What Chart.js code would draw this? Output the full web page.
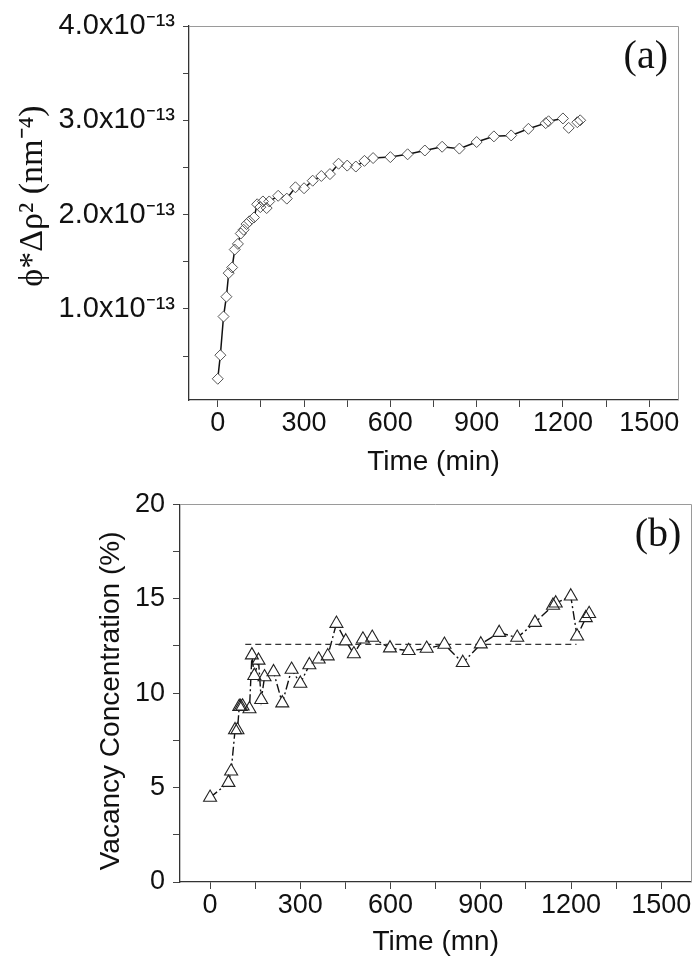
<!DOCTYPE html>
<html><head><meta charset="utf-8">
<script src="https://cdn.jsdelivr.net/npm/chart.js@4"></script>
<style>
html,body{margin:0;padding:0;background:#fff;}
#wrapA{position:absolute;left:0;top:0;width:700px;height:480px;}
#wrapB{position:absolute;left:0;top:480px;width:700px;height:485px;}
</style></head><body>
<div id="wrapA"><canvas id="chartA" width="700" height="480"></canvas></div>
<div id="wrapB"><canvas id="chartB" width="700" height="485"></canvas></div>
<script>
// ---- data (a): phi*Δρ² vs time ----
const timeA = [0, 9, 20, 30, 38, 50, 59, 70, 80, 90, 100, 110, 126, 137, 148, 157, 170, 179, 210, 240, 270, 300, 330, 360, 390, 420, 450, 480, 510, 540, 600, 660, 720, 780, 840, 900, 960, 1020, 1080, 1140, 1150, 1200, 1220, 1250, 1260];
const phiA = [0.26e-13, 0.51e-13, 0.92e-13, 1.13e-13, 1.38e-13, 1.44e-13, 1.63e-13, 1.69e-13, 1.80e-13, 1.84e-13, 1.90e-13, 1.93e-13, 1.97e-13, 2.11e-13, 2.08e-13, 2.14e-13, 2.07e-13, 2.14e-13, 2.20e-13, 2.17e-13, 2.29e-13, 2.28e-13, 2.36e-13, 2.41e-13, 2.43e-13, 2.54e-13, 2.52e-13, 2.51e-13, 2.57e-13, 2.60e-13, 2.61e-13, 2.64e-13, 2.68e-13, 2.72e-13, 2.70e-13, 2.77e-13, 2.83e-13, 2.84e-13, 2.91e-13, 2.97e-13, 2.99e-13, 3.02e-13, 2.92e-13, 2.98e-13, 3.00e-13];

// ---- data (b): vacancy concentration vs time ----
const timeB = [0, 61, 70, 83, 91, 97, 102, 108, 131, 139, 147, 161, 170, 181, 211, 240, 271, 300, 330, 361, 391, 420, 451, 478, 508, 539, 598, 660, 720, 779, 840, 900, 961, 1021, 1080, 1140, 1149, 1199, 1220, 1249, 1260];
const vacB = [4.47, 5.26, 5.86, 8.05, 8.05, 9.28, 9.28, 9.30, 9.16, 12.01, 10.92, 11.73, 9.65, 10.85, 11.12, 9.47, 11.25, 10.51, 11.49, 11.79, 11.96, 13.68, 12.75, 12.07, 12.85, 12.94, 12.38, 12.24, 12.36, 12.57, 11.61, 12.59, 13.20, 12.94, 13.73, 14.64, 14.76, 15.13, 13.01, 13.98, 14.20];
const plateauT = [117, 1218];
const plateauV = [12.58, 12.58];

// ---- tick labels ----
const xTicks = [0, 300, 600, 900, 1200, 1500];
const xTickLabels = ['0', '300', '600', '900', '1200', '1500'];
const yTicksA = [1e-13, 2e-13, 3e-13, 4e-13];
const yTickLabelsA = ['1.0x10\u207B\u00B9\u00B3', '2.0x10\u207B\u00B9\u00B3', '3.0x10\u207B\u00B9\u00B3', '4.0x10\u207B\u00B9\u00B3'];
const yTicksB = [0, 5, 10, 15, 20];
const yTickLabelsB = ['0', '5', '10', '15', '20'];

const SANS = '"Liberation Sans", Arial, sans-serif';
const SERIF = '"Liberation Serif", "Times New Roman", serif';

function multipleOf(v, step) { return Math.abs(v / step - Math.round(v / step)) < 1e-6; }
function labelFor(v, ticks, labels) {
  for (let i = 0; i < ticks.length; i++) {
    if (Math.abs(v - ticks[i]) <= Math.abs(ticks[i]) * 1e-6 + 1e-20) return labels[i];
  }
  return '';
}

const framePlugin = {
  id: 'frame',
  afterDraw(chart, args, opts) {
    const {ctx, chartArea: a} = chart;
    ctx.save();
    ctx.strokeStyle = '#9a9a9a';
    ctx.lineWidth = 1;
    ctx.beginPath();
    ctx.moveTo(a.left, Math.round(a.top) + 0.5);
    ctx.lineTo(Math.round(a.right) + 0.5, Math.round(a.top) + 0.5);
    ctx.lineTo(Math.round(a.right) + 0.5, a.bottom);
    ctx.stroke();
    ctx.font = '40px ' + SERIF;
    ctx.fillStyle = '#111';
    ctx.textAlign = 'right';
    ctx.textBaseline = 'alphabetic';
    ctx.fillText(opts.label, a.right - 10, a.top + 42);
    ctx.restore();
  }
};

function xScale(title, height, titlePad) {
  return {
    type: 'linear', min: -100, max: 1600,
    afterBuildTicks: ax => { ax.ticks = ax.ticks.filter(t => multipleOf(t.value, 150)); },
    ticks: {
      stepSize: 150, includeBounds: false, autoSkip: false, maxRotation: 0, padding: 0, color: '#111',
      font: {family: SANS, size: 27},
      callback: v => labelFor(v, xTicks, xTickLabels)
    },
    grid: {display: true, drawOnChartArea: false, drawTicks: true, tickLength: 7, color: '#444', lineWidth: 1},
    border: {display: true, color: '#333', width: 1.3},
    title: {display: true, text: title, color: '#111', font: {family: SANS, size: 28}, padding: {top: 0, bottom: titlePad}},
    afterFit: ax => { ax.height = height; }
  };
}

function yScale(opt) {
  return {
    type: 'linear', min: opt.min, max: opt.max,
    afterBuildTicks: ax => { ax.ticks = ax.ticks.filter(t => multipleOf(t.value, opt.step)); },
    ticks: {
      stepSize: opt.step, includeBounds: false, autoSkip: false, padding: 8, color: '#111',
      font: {family: SANS, size: opt.tickSize},
      callback: v => labelFor(v, opt.ticks, opt.labels)
    },
    grid: {display: true, drawOnChartArea: false, drawTicks: true, tickLength: opt.tickLength, color: '#444', lineWidth: 1},
    border: {display: true, color: '#333', width: 1.3},
    title: {display: true, text: opt.title, color: '#111', font: {family: opt.titleFont, size: opt.titleSize}, padding: {top: opt.titlePad, bottom: 0}},
    afterFit: ax => { ax.width = opt.width; }
  };
}

Chart.defaults.animation = false;

const ptsA = timeA.map((t, i) => ({x: t, y: phiA[i]}));
new Chart(document.getElementById('chartA'), {
  type: 'scatter',
  data: {datasets: [
    {data: ptsA, showLine: false, pointStyle: 'rectRot', pointRadius: 5.5, pointBorderColor: '#555', pointBackgroundColor: 'rgba(0,0,0,0)', pointBorderWidth: 1},
    {data: ptsA, showLine: false, pointStyle: 'rectRot', pointRadius: 5.2, pointBorderWidth: 0, pointBackgroundColor: '#fff'},
    {data: ptsA, showLine: true, pointRadius: 0, borderColor: '#111', borderWidth: 1.5,
     segment: {borderColor: c => c.p0DataIndex >= 41 ? 'rgba(0,0,0,0)' : '#111'}}
  ]},
  options: {
    responsive: false, events: [],
    layout: {padding: {left: 0, right: 22, top: 26, bottom: 0}},
    plugins: {legend: {display: false}, tooltip: {enabled: false}, frame: {label: '(a)'}},
    scales: {
      x: xScale('Time (min)', 80, 1),
      y: yScale({min: 0.035e-13, max: 4e-13, step: 0.5e-13, ticks: yTicksA, labels: yTickLabelsA, tickSize: 29, tickLength: 6,
        title: '\u00A0\u00A0\u00A0\u00A0\u03D5*\u0394\u03C1\u00B2 (nm\u207B\u2074)', titleFont: SERIF, titleSize: 34, titlePad: 13, width: 189})
    }
  },
  plugins: [framePlugin]
});

const ptsB = timeB.map((t, i) => ({x: t, y: vacB[i]}));
const plateau = plateauT.map((t, i) => ({x: t, y: plateauV[i]}));
new Chart(document.getElementById('chartB'), {
  type: 'scatter',
  data: {datasets: [
    {data: ptsB, showLine: false, pointStyle: 'triangle', pointRadius: 7.5, pointBorderColor: '#222', pointBackgroundColor: 'rgba(0,0,0,0)', pointBorderWidth: 1.1},
    {data: ptsB, showLine: false, pointStyle: 'triangle', pointRadius: 7, pointBorderWidth: 0, pointBackgroundColor: '#fff'},
    {data: plateau, showLine: true, pointRadius: 0, borderColor: '#333', borderWidth: 1.2, borderDash: [6, 4]},
    {data: ptsB, showLine: true, pointRadius: 0, borderColor: '#111', borderWidth: 1.4, borderDash: [9, 3, 2, 3]}
  ]},
  options: {
    responsive: false, events: [],
    layout: {padding: {left: 0, right: 8, top: 21, bottom: 0}},
    plugins: {legend: {display: false}, tooltip: {enabled: false}, frame: {label: '(b)'}},
    scales: {
      x: xScale('Time (mn)', 83, 6),
      y: yScale({min: 0, max: 20, step: 2.5, ticks: yTicksB, labels: yTickLabelsB, tickSize: 27, tickLength: 7,
        title: 'Vacancy Concentration (%)\u00A0\u00A0', titleFont: SANS, titleSize: 28, titlePad: 94, width: 180})
    }
  },
  plugins: [framePlugin]
});
</script>
</body></html>
